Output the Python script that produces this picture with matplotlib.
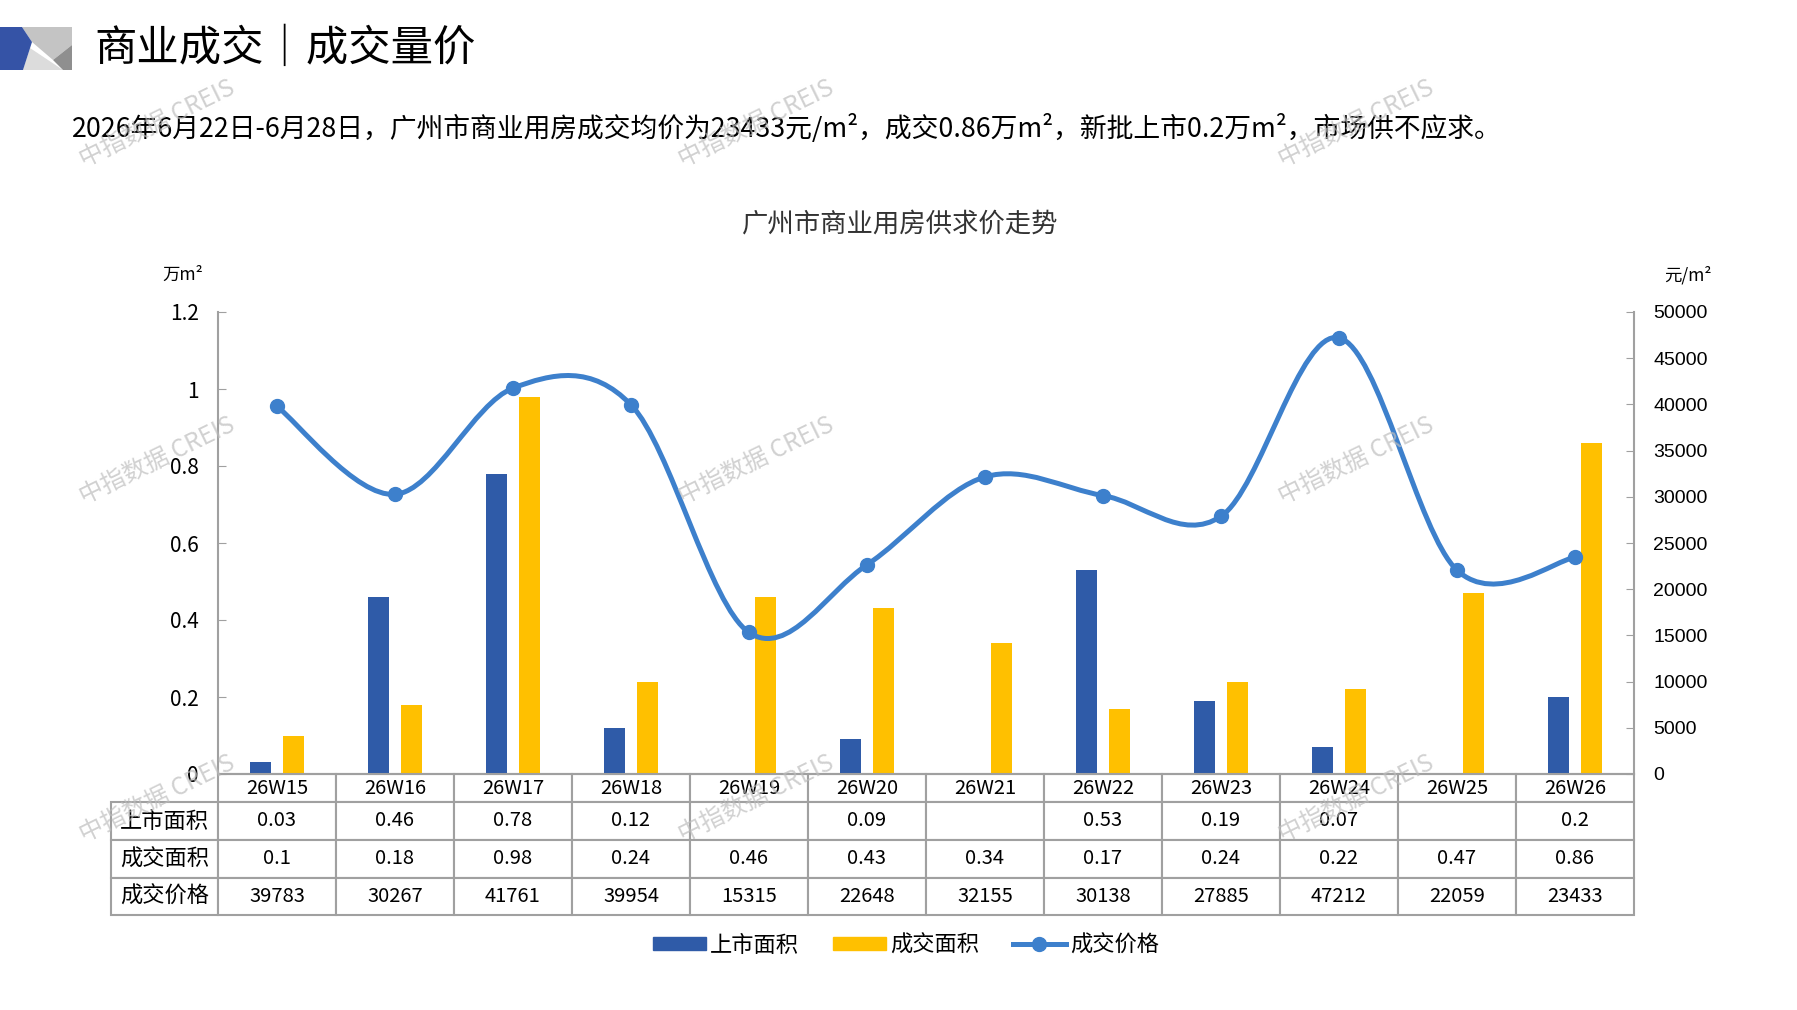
import matplotlib
matplotlib.use('Agg')
import matplotlib.pyplot as plt
from matplotlib.path import Path
from matplotlib.patches import PathPatch, Polygon, Patch
from matplotlib.lines import Line2D
import numpy as np

plt.rcParams['font.family'] = ['Noto Sans CJK SC', 'DejaVu Sans']

weeks = ['26W15', '26W16', '26W17', '26W18', '26W19', '26W20',
         '26W21', '26W22', '26W23', '26W24', '26W25', '26W26']
supply = [0.03, 0.46, 0.78, 0.12, None, 0.09, None, 0.53, 0.19, 0.07, None, 0.2]
deal = [0.1, 0.18, 0.98, 0.24, 0.46, 0.43, 0.34, 0.17, 0.24, 0.22, 0.47, 0.86]
price = [39783, 30267, 41761, 39954, 15315, 22648, 32155, 30138, 27885, 47212, 22059, 23433]

row_labels = ['上市面积', '成交面积', '成交价格']
left_ticks = [0, 0.2, 0.4, 0.6, 0.8, 1.0, 1.2]
left_tick_labels = ['0', '0.2', '0.4', '0.6', '0.8', '1', '1.2']
right_ticks = list(range(0, 50001, 5000))

BLUE = '#2F5BA8'
YELLOW = '#FFC000'
LINE = '#3D80CC'
GRID = '#A0A0A0'

W, H = 1797, 1010


def fx(px):
    return px / W


def fy(py):
    return 1 - py / H


fig = plt.figure(figsize=(W / 100, H / 100), dpi=100)

# header decoration
deco = fig.add_axes([0, 0, 1, 1], zorder=-1)
deco.set_xlim(0, W)
deco.set_ylim(H, 0)
deco.axis('off')
deco.add_patch(Polygon([(22, 27), (72, 27), (72, 45), (53, 60), (32, 42)], color='#c4c4c4', lw=0))
deco.add_patch(Polygon([(30, 48), (63, 70), (23, 70)], color='#dcdcdc', lw=0))
deco.add_patch(Polygon([(72, 45), (72, 70), (63, 70), (53, 60)], color='#8f8f8f', lw=0))
deco.add_patch(Polygon([(0, 27), (22, 27), (32, 42), (23, 70), (0, 70)], color='#3553A6', lw=0))

fig.text(fx(94), fy(49), '商业成交｜成交量价', fontsize=30.5, va='center', ha='left')
fig.text(fx(72), fy(128),
         '2026年6月22日-6月28日，广州市商业用房成交均价为23433元/m²，成交0.86万m²，新批上市0.2万m²，市场供不应求。',
         fontsize=19.3, va='center', ha='left')
fig.text(fx(900), fy(225), '广州市商业用房供求价走势', fontsize=19, va='center', ha='center', color='#333333')
fig.text(fx(183), fy(275), '万m²', fontsize=12.5, va='center', ha='center')
fig.text(fx(1688), fy(275), '元/m²', fontsize=12.5, va='center', ha='center')

ax_l, ax_r, ax_t, ax_b = 218, 1634, 312, 774
ax1 = fig.add_axes([fx(ax_l), fy(ax_b), fx(ax_r) - fx(ax_l), fy(ax_t) - fy(ax_b)])
ax2 = ax1.twinx()

x = np.arange(len(weeks))
bw = 0.175
sup_vals = [np.nan if v is None else v for v in supply]
ax1.bar(x - 0.14, sup_vals, width=bw, color=BLUE, zorder=2)
ax1.bar(x + 0.14, deal, width=bw, color=YELLOW, zorder=2)
ax1.set_xlim(-0.5, len(weeks) - 0.5)
ax1.set_ylim(0, 1.2)
ax1.set_yticks(left_ticks)
ax1.set_yticklabels(left_tick_labels)
ax1.set_xticks([])

ax2.set_ylim(0, 50000)
ax2.set_yticks(right_ticks)
for lab in ax2.get_yticklabels():
    lab.set_fontfamily('Liberation Sans')

for ax in (ax1, ax2):
    ax.spines['top'].set_visible(False)
    for s in ('left', 'right', 'bottom'):
        ax.spines[s].set_color(GRID)
        ax.spines[s].set_linewidth(1.5)
    ax.tick_params(axis='y', direction='in', length=6, color=GRID, labelsize=14, pad=14)
ax1.tick_params(axis='y', labelsize=15)
ax1.spines['right'].set_visible(False)
ax2.spines['left'].set_visible(False)
ax2.spines['bottom'].set_visible(False)

# smoothed price line (Excel-style bezier through the points)
pts = list(zip(x.astype(float), price))
verts = [pts[0]]
codes = [Path.MOVETO]
n = len(pts)
for i in range(n - 1):
    p0 = np.array(pts[max(i - 1, 0)])
    p1 = np.array(pts[i])
    p2 = np.array(pts[i + 1])
    p3 = np.array(pts[min(i + 2, n - 1)])
    c1 = p1 + (p2 - p0) / 6
    c2 = p2 - (p3 - p1) / 6
    verts += [tuple(c1), tuple(c2), tuple(p2)]
    codes += [Path.CURVE4] * 3
ax2.add_patch(PathPatch(Path(verts, codes), fill=False, edgecolor=LINE, lw=3.6, zorder=3, capstyle='round'))
ax2.plot(x, price, 'o', color=LINE, markersize=10, zorder=4)


# data table under the axis
def fmt(v):
    return '' if v is None else f'{v:g}'


cell_text = [[fmt(v) for v in supply], [fmt(v) for v in deal], [str(v) for v in price]]
plot_h = ax_b - ax_t
plot_w = ax_r - ax_l
row_px = [28, 38, 38, 37]
tab_left = 116
# bbox covers the data cells only; the row-label column hangs to the left of it
tbl = ax1.table(cellText=cell_text, rowLabels=row_labels, colLabels=weeks,
                cellLoc='center', rowLoc='center',
                colWidths=[1 / len(weeks)] * len(weeks),
                bbox=[0, -sum(row_px) / plot_h, 1, sum(row_px) / plot_h])
tbl.auto_set_font_size(False)
tbl.set_fontsize(14.5)
for (r, c), cell in tbl.get_celld().items():
    cell.set_edgecolor(GRID)
    cell.set_linewidth(1.5)
    cell.set_height(row_px[r] / plot_h)
    if c == -1:
        cell.set_width((ax_l - tab_left) / plot_w)
        cell.get_text().set_fontsize(16)

# watermarks
for wx in (157, 756, 1356):
    for wy in (124, 461, 799):
        fig.text(fx(wx), fy(wy), '中指数据 CREIS', fontsize=17.5, color='#bdbdbd', alpha=0.7,
                 rotation=26, ha='center', va='center', zorder=10)

handles = [Patch(color=BLUE), Patch(color=YELLOW),
           Line2D([], [], color=LINE, lw=3.6, marker='o', markersize=10)]
fig.legend(handles, ['上市面积', '成交面积', '成交价格'], loc='center',
           bbox_to_anchor=(fx(906), fy(945)), ncol=3, frameon=False, fontsize=16,
           handlelength=2.4, handleheight=0.55, columnspacing=1.5, handletextpad=0.2)

fig.savefig('out.png', dpi=100)
